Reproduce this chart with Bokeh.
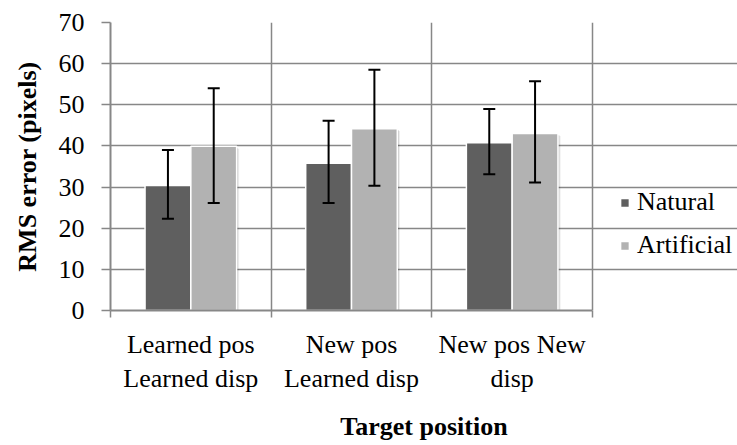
from bokeh.plotting import figure
from bokeh.models import (ColumnDataSource, Range1d, FixedTicker, Whisker,
                          TeeHead, Legend, LegendItem)
from bokeh.embed import file_html
from bokeh.resources import INLINE

# Mean RMS error per condition, with error bar bounds
categories = ["Learned pos\nLearned disp", "New pos\nLearned disp", "New pos New\ndisp"]
natural = [30.4, 35.8, 40.8]
natural_low = [22.3, 26.1, 33.1]
natural_high = [39.0, 46.1, 49.0]
artificial = [39.9, 44.2, 43.0]
artificial_low = [26.1, 30.3, 31.1]
artificial_high = [54.0, 58.5, 55.7]
y_ticks = [0, 10, 20, 30, 40, 50, 60, 70]

FONT = "Liberation Serif"
GRID = "#878787"
DARK = "#5f5f5f"
LIGHT = "#b2b2b2"
BAR_W = 0.285

N = len(categories)
centers = [i + 0.5 for i in range(N)]
nat_x = [c - BAR_W / 2 for c in centers]
art_x = [c + BAR_W / 2 for c in centers]

# the frame runs to the right edge so the legend can sit beside the bars;
# grid and axis are bounded to the category area
LEFT, PLOT_W = 110, 482
x_end = N * (737 - LEFT) / PLOT_W

p = figure(width=737, height=445, output_backend="svg", toolbar_location=None,
           x_range=Range1d(0, x_end), y_range=Range1d(0, 70),
           min_border_left=LEFT, min_border_right=0,
           min_border_top=22, min_border_bottom=135)
p.background_fill_color = "white"
p.border_fill_color = "white"
p.outline_line_color = None

# soft drop shadow behind each bar
for dx, dy, a in [(0.016, -0.6, 0.08), (0.009, -0.35, 0.14)]:
    p.vbar(x=[x + dx for x in nat_x + art_x], width=BAR_W,
           top=[v + dy for v in natural + artificial],
           bottom=dy, fill_color="#000000", fill_alpha=a, line_color=None)

src_nat = ColumnDataSource(dict(x=nat_x, top=natural, lo=natural_low, hi=natural_high))
src_art = ColumnDataSource(dict(x=art_x, top=artificial, lo=artificial_low, hi=artificial_high))

r_nat = p.vbar(x="x", top="top", width=BAR_W, source=src_nat,
               fill_color=DARK, line_color="white", line_width=1.5)
r_art = p.vbar(x="x", top="top", width=BAR_W, source=src_art,
               fill_color=LIGHT, line_color="white", line_width=1.5)

for src in (src_nat, src_art):
    w = Whisker(base="x", lower="lo", upper="hi", source=src, level="overlay",
                line_color="black", line_width=2,
                upper_head=TeeHead(size=12, line_color="black", line_width=2),
                lower_head=TeeHead(size=12, line_color="black", line_width=2))
    p.add_layout(w)

# axes
xa = p.xaxis[0]
xa.bounds = (0, N)
xa.ticker = FixedTicker(ticks=centers, minor_ticks=list(range(N + 1)))
xa.major_label_overrides = {c: lab for c, lab in zip(centers, categories)}
xa.major_tick_out = 0
xa.major_tick_in = 0
xa.minor_tick_out = 7
xa.minor_tick_in = 0
xa.minor_tick_line_color = GRID
xa.minor_tick_line_width = 1.5
xa.axis_line_color = GRID
xa.axis_line_width = 2
xa.major_label_text_font = FONT
xa.major_label_text_font_size = "26px"
xa.major_label_text_color = "black"
xa.major_label_standoff = 12
xa.axis_label = "Target position"
xa.axis_label_text_font = FONT
xa.axis_label_text_font_size = "26px"
xa.axis_label_text_font_style = "bold"
xa.axis_label_text_color = "black"
xa.axis_label_standoff = 16

ya = p.yaxis[0]
ya.ticker = FixedTicker(ticks=y_ticks, minor_ticks=[])
ya.major_tick_out = 9
ya.major_tick_in = 0
ya.major_tick_line_color = GRID
ya.major_tick_line_width = 1.5
ya.axis_line_color = GRID
ya.axis_line_width = 2
ya.major_label_text_font = FONT
ya.major_label_text_font_size = "26px"
ya.major_label_text_color = "black"
ya.major_label_standoff = 17
ya.axis_label = "RMS error (pixels)"
ya.axis_label_text_font = FONT
ya.axis_label_text_font_size = "26px"
ya.axis_label_text_font_style = "bold"
ya.axis_label_text_color = "black"
ya.axis_label_standoff = 14

# category separators and right border
p.xgrid.ticker = FixedTicker(ticks=list(range(1, N + 1)))
p.xgrid.grid_line_color = GRID
p.xgrid.grid_line_width = 1.5
p.ygrid.bounds = (0, N)
p.ygrid.grid_line_color = GRID
p.ygrid.grid_line_width = 1.5

legend = Legend(items=[LegendItem(label="Natural", renderers=[r_nat]),
                       LegendItem(label="Artificial", renderers=[r_art])],
                location=(509, 50), orientation="vertical",
                glyph_width=11, glyph_height=11, spacing=13,
                padding=0, margin=0, border_line_color=None,
                background_fill_alpha=0,
                label_text_font=FONT, label_text_font_size="26px",
                label_text_color="black", label_standoff=7)
p.add_layout(legend, "center")

open("out.html", "w").write(file_html(p, INLINE))
